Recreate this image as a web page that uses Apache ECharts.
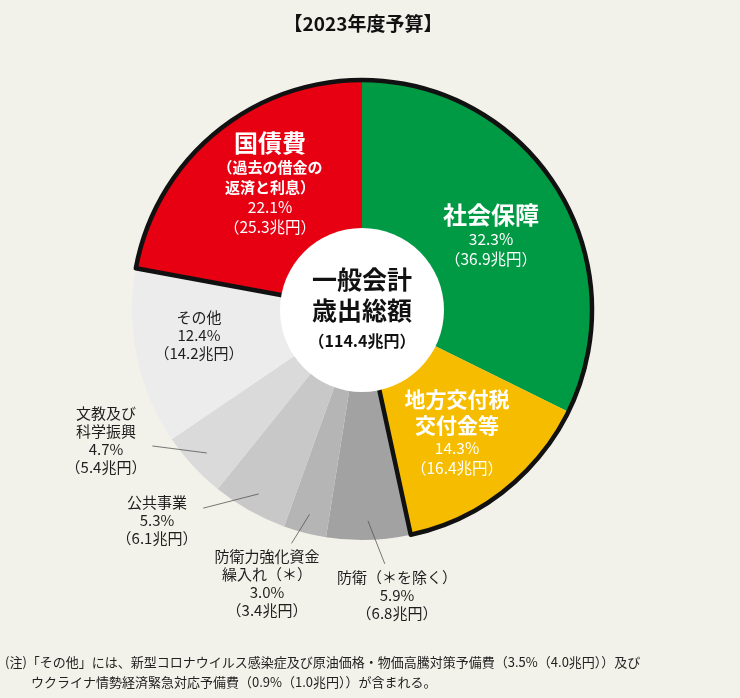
<!DOCTYPE html>
<html>
<head>
<meta charset="utf-8">
<script src="https://cdn.jsdelivr.net/npm/echarts@6.0.0/dist/echarts.min.js"></script>
<style>
html,body{margin:0;padding:0;background:#f3f2ea;}
#chart{width:740px;height:698px;}
</style>
</head>
<body>
<div id="chart"></div>
<script>
// ---- data ----
const chartTitle = '【2023年度予算】';
const categories = ['社会保障', '地方交付税交付金等', '防衛（＊を除く）', '防衛力強化資金繰入れ（＊）', '公共事業', '文教及び科学振興', 'その他', '国債費'];
const labelTitles = ['社会保障', '地方交付税\n交付金等', '防衛（＊を除く）', '防衛力強化資金\n繰入れ（＊）', '公共事業', '文教及び\n科学振興', 'その他', '国債費'];
const labelNotes = ['', '', '', '', '', '', '', '（過去の借金の\n返済と利息）'];
const shares = [32.3, 14.3, 5.9, 3.0, 5.3, 4.7, 12.4, 22.1];      // %
const amounts = [36.9, 16.4, 6.8, 3.4, 6.1, 5.4, 14.2, 25.3];     // 兆円
const totalAmount = 114.4;
const centerTitle = ['一般会計', '歳出総額'];
const footnote = ['(注)「その他」には、新型コロナウイルス感染症及び原油価格・物価高騰対策予備費（3.5%（4.0兆円））及び',
                  'ウクライナ情勢経済緊急対応予備費（0.9%（1.0兆円））が含まれる。'];
const outlinedGroup = [7, 0, 1]; // 国債費→社会保障→地方交付税 (contiguous, outlined in black)

// ---- styles / layout ----
const FONT = '"Noto Sans CJK JP", "Noto Sans", sans-serif';
const colors = ['#009944', '#f6bd00', '#a2a2a2', '#b5b5b5', '#c8c8c8', '#dadada', '#ececec', '#e60012'];
const titleKey = ['t', 'ty', 'g', 'g', 'g', 'g', 'g', 't'];
const insideIdx = [0, 1, 6, 7];
const labelPos = [[491, 235], [457, 432], [397, 595], [267, 583], [157, 520], [106, 440], [199, 335], [270, 183]];
const CX = 362, CY = 310, R = 230, R0 = 82, LINE_START_R = 211;

function labelText(i) {
  const pct = shares[i].toFixed(1) + '%';
  const amt = '（' + amounts[i].toFixed(1) + '兆円）';
  const tk = titleKey[i];
  const nk = tk === 'g' ? 'g' : 'p';
  const parts = labelTitles[i].split('\n').map(t => '{' + tk + '|' + t + '}');
  if (labelNotes[i]) labelNotes[i].split('\n').forEach(t => parts.push('{s|' + t + '}'));
  parts.push('{' + nk + '|' + pct + '}', '{' + nk + '|' + amt + '}');
  return parts.join('\n');
}

const rich = {
  t: {color: '#fff', fontSize: 24, fontWeight: 'bold', fontFamily: FONT, lineHeight: 29, align: 'center'},
  ty: {color: '#fff', fontSize: 21, fontWeight: 'bold', fontFamily: FONT, lineHeight: 26, align: 'center'},
  s: {color: '#fff', fontSize: 15, fontWeight: 'bold', fontFamily: FONT, lineHeight: 20, align: 'center'},
  p: {color: '#fff', fontSize: 15.5, fontFamily: FONT, lineHeight: 20, align: 'center'},
  g: {color: '#1e1e1e', fontSize: 15, fontFamily: FONT, lineHeight: 18, align: 'center'}
};

const pieData = categories.map((name, i) => ({name: name, value: shares[i], itemStyle: {color: colors[i]}}));

// transparent copy of the same data that carries labels and leader lines above the sectors
const labelData = categories.map((name, i) => {
  const inside = insideIdx.indexOf(i) >= 0;
  return {
    name: name,
    value: shares[i],
    itemStyle: {color: 'rgba(0,0,0,0)'},
    label: {position: inside ? 'inside' : 'outside'},
    labelLine: {show: !inside}
  };
});

// geometry derived from the shares (same as the pie layout: start at top, clockwise)
const sumAll = shares.reduce((a, b) => a + b, 0);
const cumBefore = [];
shares.reduce((acc, v) => { cumBefore.push(acc); return acc + v; }, 0);
function midDir(i) {
  const ang = (90 - (cumBefore[i] + shares[i] / 2) / sumAll * 360) * Math.PI / 180;
  return [Math.cos(ang), -Math.sin(ang)];
}
const startShare = cumBefore[outlinedGroup[0]];
const outlinedSum = outlinedGroup.reduce((a, i) => a + shares[i], 0);
let overlayStart = 90 - startShare / sumAll * 360;
overlayStart = ((overlayStart % 360) + 360) % 360;

const chart = echarts.init(document.getElementById('chart'), null, {renderer: 'canvas'});
chart.setOption({
  backgroundColor: '#f3f2ea',
  animation: false,
  graphic: [
    {type: 'text', x: 363, y: 24, style: {text: chartTitle, textAlign: 'center', textVerticalAlign: 'middle', font: 'bold 19px ' + FONT, fill: '#111'}},
    {type: 'text', x: 5, y: 662, style: {text: footnote[0], textVerticalAlign: 'middle', font: '13px ' + FONT, fill: '#222'}},
    {type: 'text', x: 31, y: 682, style: {text: footnote[1], textVerticalAlign: 'middle', font: '13px ' + FONT, fill: '#222'}}
  ],
  series: [
    {
      type: 'pie',
      z: 2,
      center: [CX, CY],
      radius: [0, R],
      startAngle: 90,
      clockwise: true,
      silent: true,
      itemStyle: {borderWidth: 0},
      label: {show: false},
      labelLine: {show: false},
      data: pieData
    },
    {
      type: 'pie',
      z: 3,
      center: [CX, CY],
      radius: [0, R],
      startAngle: overlayStart,
      clockwise: true,
      silent: true,
      label: {show: false},
      labelLine: {show: false},
      emphasis: {disabled: true},
      data: [
        {value: outlinedSum, itemStyle: {color: 'rgba(0,0,0,0)', borderColor: '#111', borderWidth: 4.5}},
        {value: sumAll - outlinedSum, itemStyle: {color: 'rgba(0,0,0,0)', borderWidth: 0}}
      ]
    },
    {
      type: 'pie',
      z: 4,
      center: [CX, CY],
      radius: [0, R],
      startAngle: 90,
      clockwise: true,
      silent: true,
      avoidLabelOverlap: false,
      emphasis: {disabled: true},
      itemStyle: {borderWidth: 0},
      label: {
        show: true,
        formatter: p => labelText(p.dataIndex),
        rich: rich
      },
      labelLine: {show: true, length: 10, length2: 0, lineStyle: {color: '#555', width: 0.8}},
      labelLayout: function (p) {
        const i = p.dataIndex;
        const pos = labelPos[i];
        const out = {x: pos[0], y: pos[1], align: 'center', verticalAlign: 'middle'};
        if (insideIdx.indexOf(i) < 0 && p.labelRect) {
          const d = midDir(i);
          const a = [CX + LINE_START_R * d[0], CY + LINE_START_R * d[1]];
          const vx = pos[0] - a[0], vy = pos[1] - a[1];
          const hw = p.labelRect.width / 2, hh = p.labelRect.height / 2;
          const sx = Math.abs(vx) > 1e-6 ? hw / Math.abs(vx) : Infinity;
          const sy = Math.abs(vy) > 1e-6 ? hh / Math.abs(vy) : Infinity;
          const vlen = Math.hypot(vx, vy) || 1;
          const f = 1 - Math.min(sx, sy) - 6 / vlen;
          const b = [a[0] + vx * f, a[1] + vy * f];
          out.labelLinePoints = [a, b, b];
        }
        return out;
      },
      data: labelData
    },
    {
      type: 'pie',
      z: 5,
      center: [CX, CY],
      radius: [0, R0],
      silent: true,
      emphasis: {disabled: true},
      label: {
        show: true,
        position: 'center',
        formatter: () => centerTitle.map(t => '{c|' + t + '}').join('\n') + '\n{d|（' + totalAmount.toFixed(1) + '兆円）}',
        rich: {
          c: {color: '#111', fontSize: 25, fontWeight: 'bold', fontFamily: FONT, lineHeight: 31, align: 'center'},
          d: {color: '#111', fontSize: 16, fontWeight: 'bold', fontFamily: FONT, lineHeight: 30, align: 'center'}
        }
      },
      labelLine: {show: false},
      data: [{value: totalAmount, name: '一般会計歳出総額', itemStyle: {color: '#ffffff'}}]
    }
  ]
});
</script>
</body>
</html>
